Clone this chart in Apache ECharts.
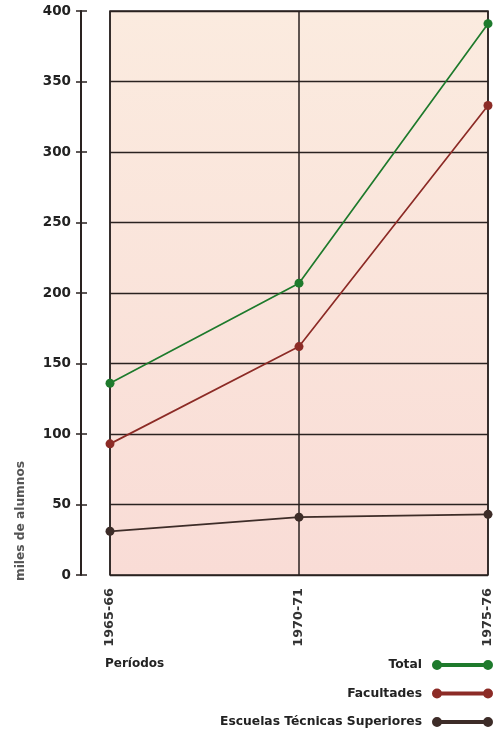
<!DOCTYPE html>
<html><head><meta charset="utf-8">
<script src="https://cdn.jsdelivr.net/npm/echarts@6/dist/echarts.min.js"></script>
<style>html,body{margin:0;padding:0;background:#fff}#c{width:504px;height:729px}</style>
</head><body><div id="c"></div>
<script>
const periods = ['1965-66', '1970-71', '1975-76'];
const totalValues = [136, 207, 391];
const facultadesValues = [93, 162, 333];
const escuelasValues = [31, 41, 43];
const yTicks = [0, 50, 100, 150, 200, 250, 300, 350, 400];

const FONT = '"DejaVu Sans", "Liberation Sans", sans-serif';
const INK = '#2a2220';
const legendIcon = 'path://M0,5 A5,5 0 1,1 10,5 A5,5 0 1,1 0,5 Z M9,3 L52,3 L52,7 L9,7 Z M51,5 A5,5 0 1,1 61,5 A5,5 0 1,1 51,5 Z';

const chart = echarts.init(document.getElementById('c'));
function mk(name, data, color) {
  return {
    name, type: 'line', data, xAxisIndex: 0, yAxisIndex: 0,
    symbol: 'circle', symbolSize: 9,
    lineStyle: { color, width: 1.7 },
    itemStyle: { color },
    emphasis: { disabled: true }
  };
}
chart.setOption({
  animation: false,
  textStyle: { fontFamily: FONT },
  grid: {
    left: 110, right: 16, top: 11, bottom: 154,
    show: true, borderColor: INK, borderWidth: 1.5,
    backgroundColor: new echarts.graphic.LinearGradient(0, 0, 0, 1, [
      { offset: 0, color: '#fbebdf' },
      { offset: 1, color: '#f9dcd6' }
    ])
  },
  legend: {
    orient: 'vertical', right: 11, top: 659, height: 100, padding: 0, align: 'right',
    itemWidth: 61, itemHeight: 10, itemGap: 16.5,
    icon: legendIcon,
    selectedMode: false,
    textStyle: { fontFamily: FONT, fontWeight: 'bold', fontSize: 12.3, color: '#222', padding: [0, 5, 0, 0] },
    data: [
      { name: 'Total', itemStyle: { color: '#1e7a2c' } },
      { name: 'Facultades', itemStyle: { color: '#8c2b26' } },
      { name: 'Escuelas Técnicas Superiores', itemStyle: { color: '#3d2c28' } }
    ]
  },
  xAxis: {
    type: 'category', data: periods, boundaryGap: false,
    axisLine: { show: false }, axisTick: { show: false },
    splitLine: { show: true, lineStyle: { color: INK, width: 1.5 } },
    axisLabel: { rotate: 90, margin: 13, fontFamily: FONT, fontWeight: 'bold', fontSize: 12.8, color: '#333' }
  },
  yAxis: [
    {
      type: 'value', min: 0, max: 400, interval: 50, offset: 29,
      axisLine: { show: true, lineStyle: { color: INK, width: 2 } },
      axisTick: { show: true, length: 5, lineStyle: { color: INK, width: 1.5 } },
      splitLine: { show: true, lineStyle: { color: INK, width: 1.3 } },
      axisLabel: {
        margin: 10, fontFamily: FONT, fontWeight: 'bold', fontSize: 13.5, color: '#222',
        formatter: v => yTicks.includes(v) ? String(v) : ''
      }
    },
    {
      type: 'value', position: 'left', min: 0, max: 400, interval: 50, offset: 29,
      axisLine: { show: false },
      axisTick: { show: true, inside: true, length: 6, lineStyle: { color: INK, width: 1.5 } },
      splitLine: { show: false }, axisLabel: { show: false }
    }
  ],
  graphic: [
    { type: 'text', left: 105, top: 658, style: { text: 'Períodos', font: 'bold 12px ' + FONT, fill: '#222' } },
    { type: 'text', x: 21, y: 521, rotation: Math.PI / 2,
      style: { text: 'miles de alumnos', font: 'bold 12.2px ' + FONT, fill: '#555', align: 'center', verticalAlign: 'middle' } }
  ],
  series: [
    mk('Total', totalValues, '#1e7a2c'),
    mk('Facultades', facultadesValues, '#8c2b26'),
    mk('Escuelas Técnicas Superiores', escuelasValues, '#3d2c28')
  ]
});
</script></body></html>
